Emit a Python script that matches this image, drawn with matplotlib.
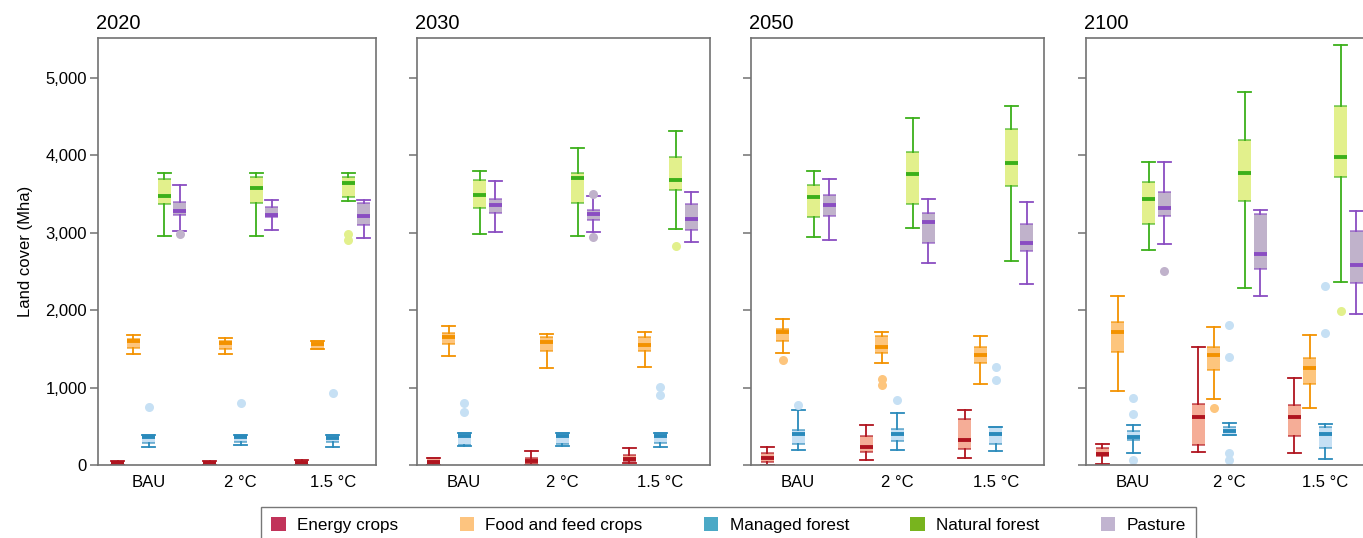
import matplotlib
matplotlib.use("Agg")
import matplotlib.pyplot as plt
from matplotlib.patches import Patch

plt.rcParams["font.family"] = ["Liberation Sans", "DejaVu Sans"]
plt.rcParams["font.size"] = 12

# =====================================
# Data (Mha)
# rows: 2020 BAU, 2 °C, 1.5 °C, 2030 ..., 2050 ..., 2100 ...
# each row: whisker low, q1, median, q3, whisker high
# =====================================

years = ["2020", "2030", "2050", "2100"]
scenarios = ["BAU", "2 °C", "1.5 °C"]
categories = ["Energy crops", "Food and feed crops", "Managed forest",
              "Natural forest", "Pasture"]

energy = [
    (0, 0, 20, 45, 50), (0, 0, 20, 45, 50), (0, 0, 25, 55, 60),
    (0, 10, 45, 90, 90), (0, 17, 56, 90, 176), (20, 47, 73, 125, 219),
    (0, 43, 90, 151, 237), (65, 163, 237, 378, 512), (90, 206, 323, 594, 714),
    (17, 112, 138, 224, 267), (163, 262, 624, 787, 1523), (159, 374, 624, 770, 1118),
]
energy_out = [[], [], [], [], [], [], [], [], [], [], [], []]

food = [
    (1433, 1515, 1597, 1622, 1682), (1433, 1498, 1579, 1601, 1639), (1494, 1494, 1565, 1601, 1601),
    (1406, 1561, 1652, 1699, 1798), (1247, 1475, 1583, 1652, 1695), (1260, 1475, 1548, 1647, 1712),
    (1449, 1604, 1712, 1755, 1884), (1320, 1441, 1523, 1669, 1712), (1045, 1320, 1415, 1523, 1665),
    (959, 1462, 1712, 1841, 2185), (856, 1226, 1419, 1527, 1785), (735, 1045, 1247, 1376, 1682),
]
food_out = [[], [], [], [], [], [], [1355], [1114, 1037], [], [], [735], []]

managed = [
    (236, 279, 356, 386, 390), (253, 292, 356, 382, 382), (232, 292, 352, 382, 382),
    (249, 258, 374, 409, 409), (249, 271, 378, 409, 409), (232, 280, 378, 409, 409),
    (194, 267, 396, 452, 710), (194, 310, 396, 469, 671), (181, 267, 396, 495, 495),
    (159, 318, 366, 443, 520), (387, 387, 439, 495, 538), (73, 215, 396, 495, 533),
]
managed_out = [[747], [803], [931],
               [804, 688], [], [1006, 908],
               [778], [834], [1265, 1092],
               [865, 662, 69], [1811, 1398, 159, 69], [2310, 1703]]

natural = [
    (2961, 3365, 3476, 3691, 3764), (2961, 3378, 3579, 3721, 3764), (3403, 3455, 3639, 3712, 3764),
    (2981, 3312, 3488, 3673, 3789), (2951, 3385, 3699, 3763, 4090), (3049, 3548, 3673, 3978, 4310),
    (2938, 3196, 3458, 3617, 3794), (3054, 3368, 3759, 4034, 4482), (2632, 3600, 3892, 4335, 4628),
    (2778, 3110, 3428, 3647, 3905), (2288, 3411, 3772, 4198, 4817), (2357, 3720, 3978, 4637, 5424),
]
natural_out = [[], [], [2987, 2897], [], [], [2830], [], [], [], [], [], [1991]]

pasture = [
    (3017, 3227, 3279, 3395, 3614), (3034, 3197, 3227, 3330, 3421), (2931, 3099, 3219, 3382, 3421),
    (3011, 3252, 3355, 3428, 3669), (3011, 3157, 3239, 3286, 3471), (2877, 3028, 3170, 3368, 3518),
    (2908, 3213, 3355, 3488, 3690), (2602, 2860, 3140, 3252, 3432), (2331, 2761, 2860, 3110, 3398),
    (2852, 3209, 3312, 3527, 3905), (2181, 2529, 2718, 3243, 3295), (1953, 2344, 2576, 3024, 3282),
]
pasture_out = [[2983], [], [], [], [3501, 2946], [], [], [], [], [2499], [], []]

# =====================================
# Styles
# =====================================

line_colors = ["#b0141f", "#f39200", "#2a8abb", "#3cb01a", "#8a4dc2"]
fill_colors = ["#f5ad97", "#fdc57d", "#c6e0f4", "#e2f08c", "#c0b2cb"]
legend_colors = ["#c1335a", "#fdc47f", "#4ba9c6", "#78b41e", "#c1b4d0"]
spine_color = "#727272"

series = [
    (energy, energy_out),
    (food, food_out),
    (managed, managed_out),
    (natural, natural_out),
    (pasture, pasture_out),
]

# =====================================
# Layout (pixels of a 1363 x 538 figure)
# =====================================

W, H = 1363, 538
panel_px = [(98, 376), (417, 710), (751, 1044), (1086, 1379)]
top_px, bottom_px = 38, 465
xlims = [(-0.55, 2.47), (-0.48, 2.51), (-0.475, 2.485), (-0.49, 2.56)]

fig = plt.figure(figsize=(W / 100, H / 100), dpi=100)

for p, year in enumerate(years):
    left, right = panel_px[p]
    ax = fig.add_axes([left / W, 1 - bottom_px / H,
                       (right - left) / W, (bottom_px - top_px) / H])
    x0, x1 = xlims[p]
    px_per_unit = (right - left) / (x1 - x0)
    step = 15.5 / px_per_unit
    bw = 13 / px_per_unit

    for c, (data, outs) in enumerate(series):
        stats = []
        for s in range(3):
            lo, q1, med, q3, hi = data[p * 3 + s]
            stats.append(dict(whislo=lo, q1=q1, med=med, q3=q3, whishi=hi,
                              fliers=outs[p * 3 + s]))
        pos = [s + (c - 2) * step for s in range(3)]
        ax.bxp(
            stats, positions=pos, widths=bw, capwidths=bw,
            patch_artist=True, manage_ticks=False,
            boxprops=dict(facecolor=fill_colors[c], edgecolor="none", linewidth=0),
            whiskerprops=dict(color=line_colors[c], linewidth=1.3),
            capprops=dict(color=line_colors[c], linewidth=1.3),
            medianprops=dict(color=line_colors[c], linewidth=2.8,
                             solid_capstyle="butt"),
            flierprops=dict(marker="o", markerfacecolor=fill_colors[c],
                            markeredgecolor="none", markersize=6.5),
        )
        # quartile edges of each box
        for st, x in zip(stats, pos):
            ax.hlines([st["q1"], st["q3"]], x - bw / 2, x + bw / 2,
                      colors=line_colors[c], linewidth=1.1, alpha=0.75)

    ax.set_xlim(x0, x1)
    ax.set_ylim(0, 5510)
    ax.set_xticks(range(3))
    ax.set_xticklabels(scenarios)
    ax.tick_params(axis="x", length=0, pad=7)
    ax.set_yticks(range(0, 6000, 1000))
    ax.set_yticklabels([f"{v:,}" for v in range(0, 6000, 1000)])
    ax.tick_params(axis="y", length=6, width=1.1, color=spine_color, pad=2)
    if p > 0:
        ax.tick_params(axis="y", labelleft=False)
    else:
        ax.set_ylabel("Land cover (Mha)", labelpad=9)
    for sp in ax.spines.values():
        sp.set_color(spine_color)
        sp.set_linewidth(1.2)
    ax.set_title(year, loc="left", pad=6.5, x=-0.008)

handles = [Patch(facecolor=col, edgecolor="none") for col in legend_colors]
leg = fig.legend(
    handles, categories, loc="upper left",
    bbox_to_anchor=(261 / W, 1 - 507 / H), ncol=5, fontsize=12.3,
    frameon=True, fancybox=False, borderaxespad=0,
    handlelength=0.85, handleheight=0.85, handletextpad=0.65,
    columnspacing=3.6, borderpad=0.6,
)
leg.get_frame().set_edgecolor("#555555")
leg.get_frame().set_linewidth(1.0)

fig.savefig("out.png", dpi=100)
